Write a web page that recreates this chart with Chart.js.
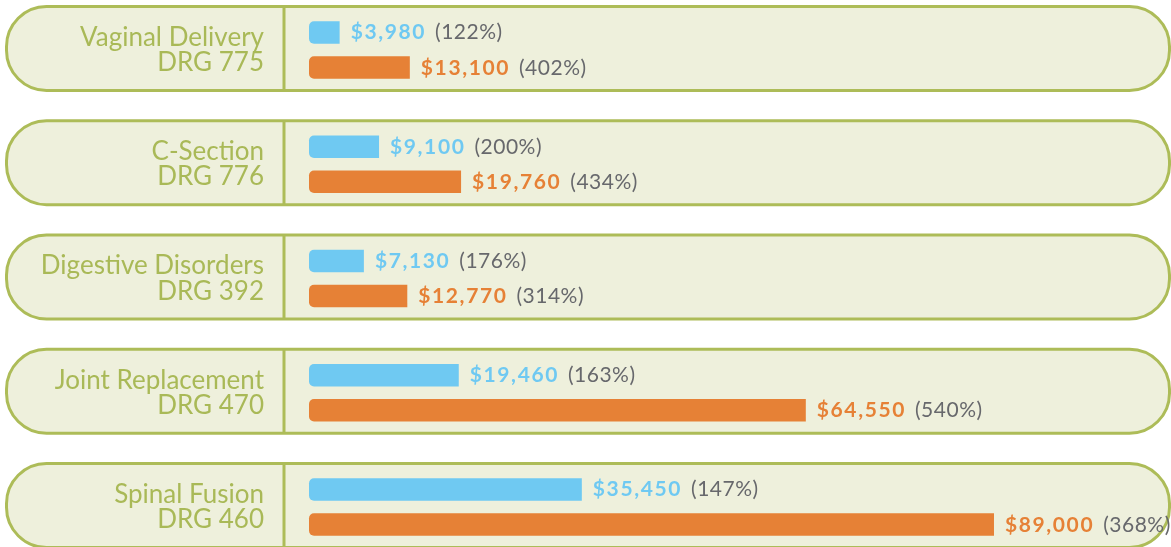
<!DOCTYPE html>
<html>
<head>
<meta charset="utf-8">
<script src="https://cdn.jsdelivr.net/npm/chart.js@4.4.1/dist/chart.umd.min.js"></script>
<style>
  html, body { margin: 0; padding: 0; background: #fff; overflow: hidden; }
  #wrap { position: relative; width: 1171px; height: 547px; }
</style>
</head>
<body>
<div id="wrap"><canvas id="chart"></canvas></div>
<script>
const procedures = ["Vaginal Delivery", "C-Section", "Digestive Disorders", "Joint Replacement", "Spinal Fusion"];
const drgCodes = ["DRG 775", "DRG 776", "DRG 392", "DRG 470", "DRG 460"];
const lowCost = [3980, 9100, 7130, 19460, 35450];
const lowPct = [122, 200, 176, 163, 147];
const highCost = [13100, 19760, 12770, 64550, 89000];
const highPct = [402, 434, 314, 540, 368];

const BLUE = "#6fc9f2";
const ORANGE = "#e68136";
const GREEN = "#adbc58";
const PANEL_FILL = "#eef0dc";

// rounded beige box behind each procedure, with the divider after the label
const panels = {
  id: "panels",
  beforeDraw(chart) {
    const { ctx, scales: { y } } = chart;
    ctx.save();
    ctx.lineWidth = 3;
    ctx.strokeStyle = GREEN;
    ctx.fillStyle = PANEL_FILL;
    procedures.forEach((_, i) => {
      const c = y.getPixelForValue(i);
      const top = c - 43.5, h = 84;
      ctx.beginPath();
      ctx.roundRect(6.5, top, 1163, h, 40);
      ctx.fill();
      ctx.stroke();
      ctx.beginPath();
      ctx.moveTo(284, top);
      ctx.lineTo(284, top + h);
      ctx.stroke();
    });
    ctx.restore();
  },
};

// "$13,100 (402%)" after each bar
const valueLabels = {
  id: "valueLabels",
  afterDatasetsDraw(chart) {
    const { ctx } = chart;
    const pcts = [lowPct, highPct];
    ctx.save();
    ctx.textBaseline = "alphabetic";
    chart.data.datasets.forEach((ds, d) => {
      chart.getDatasetMeta(d).data.forEach((bar, i) => {
        let x = bar.x + 11;
        const y = bar.y + 7;
        const money = "$" + ds.data[i].toLocaleString("en-US");
        ctx.font = "bold 21px Lato";
        ctx.letterSpacing = "1.6px";
        ctx.fillStyle = ds.backgroundColor;
        ctx.fillText(money, x, y);
        x += ctx.measureText(money).width + 9;
        ctx.font = "21px Lato";
        ctx.letterSpacing = "0.5px";
        ctx.fillStyle = "#67686c";
        ctx.fillText("(" + pcts[d][i] + "%)", x, y);
      });
    });
    ctx.restore();
  },
};

new Chart(document.getElementById("chart"), {
  type: "bar",
  data: {
    labels: procedures.map((p, i) => [p, drgCodes[i]]),
    datasets: [
      { data: lowCost, backgroundColor: BLUE },
      { data: highCost, backgroundColor: ORANGE },
    ],
  },
  options: {
    indexAxis: "y",
    responsive: true,
    maintainAspectRatio: false,
    animation: false,
    events: [],
    clip: false,
    categoryPercentage: 0.613,
    barPercentage: 0.64,
    borderSkipped: false,
    borderRadius: { topLeft: 5, bottomLeft: 5, topRight: 0, bottomRight: 0 },
    layout: { padding: { top: 50, bottom: 40, left: 0, right: 0 } },
    scales: {
      x: { display: false, min: 0, max: 112000 },
      y: {
        offset: false,
        grid: { display: false, drawTicks: false },
        border: { display: false },
        ticks: {
          color: "#a9b957",
          font: { family: "Lato", size: 26, lineHeight: 0.97 },
          padding: 45,
        },
        afterFit(scale) {
          // fixed label column; labels may overhang the plot top/bottom
          scale.width = 309;
          scale.paddingTop = 0;
          scale.paddingBottom = 0;
        },
      },
    },
    plugins: { legend: { display: false }, tooltip: { enabled: false } },
  },
  plugins: [panels, valueLabels],
});
</script>
</body>
</html>
